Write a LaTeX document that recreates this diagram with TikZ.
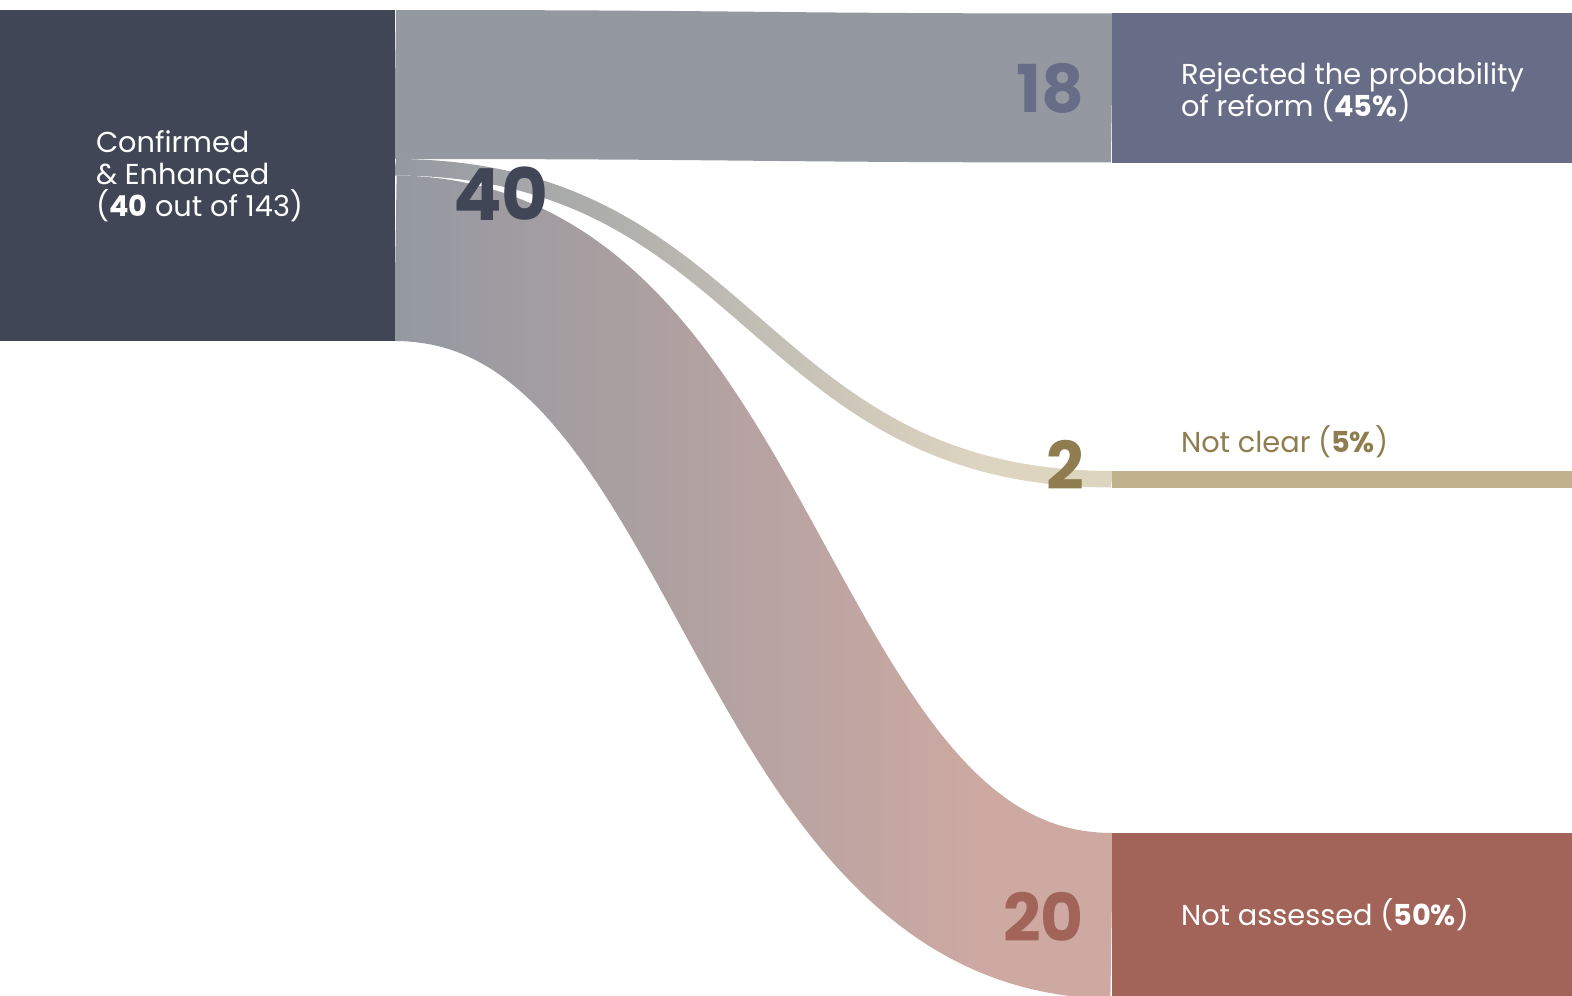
\documentclass[tikz,border=0pt]{standalone}
\usepackage{fontspec}
\setmainfont{Poppins}
\usetikzlibrary{calc}
\lineskiplimit=-100pt
\pgfdeclarelayer{bg}
\pgfsetlayers{bg,main}
\definecolor{navy}{HTML}{414656}
\definecolor{slate}{HTML}{676D87}
\definecolor{flowgray}{HTML}{9499A1}
\definecolor{beige}{HTML}{C0B28D}
\definecolor{beigetext}{HTML}{8F7D4F}
\definecolor{beigelight}{HTML}{DDD5C0}
\definecolor{rust}{HTML}{A26458}
\definecolor{pinklight}{HTML}{CDA9A2}
\pgfdeclarehorizontalshading{graybeige}{100bp}{color(0bp)=(flowgray); color(25bp)=(flowgray); color(66bp)=(beigelight); color(100bp)=(beigelight)}
\pgfdeclarehorizontalshading{graypink}{100bp}{color(0bp)=(flowgray); color(25bp)=(flowgray); color(66bp)=(pinklight); color(100bp)=(pinklight)}
\tikzset{
  declare function={
    sbpx(\s,\p,\q)=\p+\q*(1.5*\s-1.5*\s*\s+\s*\s*\s);
    sbpy(\s,\p,\q)=\p+\q*(3*\s*\s-2*\s*\s*\s);
    sbdx(\s,\q)=\q*(1.5-3*\s+3*\s*\s);
    sbdy(\s,\q)=\q*(6*\s-6*\s*\s);
  },
  nodebox/.style={draw=none, inner sep=0pt, outer sep=0pt, anchor=north west},
  lbl/.style={inner sep=0pt, outer sep=0pt, text=white, align=left,
    font=\fontsize{28.8}{32}\selectfont},
  bignum/.style={inner sep=0pt, outer sep=0pt, anchor=base east,
    font=\fontsize{66}{66}\selectfont\bfseries},
}
% band of a sankey flow: thick stroke of a horizontal-tangent cubic between two named coordinates
\newcommand\sankeyband[4]{%
  \pgfpointanchor{#1}{center}\pgfgetlastxy{\SBax}{\SBay}%
  \pgfpointanchor{#2}{center}\pgfgetlastxy{\SBbx}{\SBby}%
  \pgfmathsetmacro\SBx{\SBax/100}%
  \pgfmathsetmacro\SBy{\SBay/100}%
  \pgfmathsetmacro\SBD{(\SBbx-\SBax)/100}%
  \pgfmathsetmacro\SBE{(\SBby-\SBay)/100}%
  \pgfmathsetmacro\SBh{#3/200}%
  \begin{scope}[x=1pt,y=1pt]
  \path[#4] plot[variable=\s,domain=0:1,samples=150]
    ({100*(sbpx(\s,\SBx,\SBD)+\SBh*sbdy(\s,\SBE)/veclen(sbdx(\s,\SBD),sbdy(\s,\SBE)))},
     {100*(sbpy(\s,\SBy,\SBE)-\SBh*sbdx(\s,\SBD)/veclen(sbdx(\s,\SBD),sbdy(\s,\SBE)))})
    -- plot[variable=\s,domain=1:0,samples=150]
    ({100*(sbpx(\s,\SBx,\SBD)-\SBh*sbdy(\s,\SBE)/veclen(sbdx(\s,\SBD),sbdy(\s,\SBE)))},
     {100*(sbpy(\s,\SBy,\SBE)+\SBh*sbdx(\s,\SBD)/veclen(sbdx(\s,\SBD),sbdy(\s,\SBE)))})
    -- cycle;
  \end{scope}}
\begin{document}
\begin{tikzpicture}[x=1pt,y=-1pt]
\useasboundingbox (0,0) rectangle (1572,996);
% nodes (boxes)
\node[nodebox, fill=navy, minimum width=395pt, minimum height=331pt] (src) at (0,10) {};
\node[nodebox, fill=slate, minimum width=460pt, minimum height=150pt] (rej) at (1112,13) {};
\node[nodebox, fill=beige, minimum width=460pt, minimum height=16.5pt] (nc) at (1112,471) {};
\node[nodebox, fill=rust, minimum width=460pt, minimum height=165.5pt] (na) at (1112,833) {};
% flow end points (reaching 1px under the boxes)
\coordinate (f1s) at ($(src.north east)+(-1,74.5)$);
\coordinate (f2s) at ($(src.north east)+(-1,157.25)$);
\coordinate (f3s) at ($(src.south east)+(-1,-82.75)$);
\coordinate (f1t) at ($(rej.west)+(1,0)$);
\coordinate (f2t) at ($(nc.west)+(1,0)$);
\coordinate (f3t) at ($(na.west)+(1,0)$);
% flows
\begin{pgfonlayer}{bg}
\sankeyband{f1s}{f1t}{149}{fill=flowgray}
\sankeyband{f2s}{f2t}{16.5}{shade, shading=graybeige}
\sankeyband{f3s}{f3t}{165.5}{shade, shading=graypink}
\end{pgfonlayer}
% labels
\node[lbl, anchor=north west] (srclbl) at (96,130) {Confirmed\\\& Enhanced\\(\textbf{40} out of 143)};
\node[lbl, anchor=north west] (rejlbl) at (1181,63) {Rejected the probability\\of reform (\textbf{45\%})};
\node[lbl, anchor=north west, text=beigetext] (nclbl) at (1181,426) {Not clear (\textbf{5\%})};
\node[lbl, anchor=north west] (nalbl) at (1181,899) {Not assessed (\textbf{50\%})};
% values
\node[bignum, anchor=base west, text=navy, font=\fontsize{72}{72}\selectfont\bfseries] (n40) at (453,220) {40};
\node[bignum, text=slate] (n18) at (1084,112) {18};
\node[bignum, text=beigetext] (n2) at (1084,489) {2};
\node[bignum, text=rust] (n20) at (1084,941) {20};
\end{tikzpicture}
\end{document}
